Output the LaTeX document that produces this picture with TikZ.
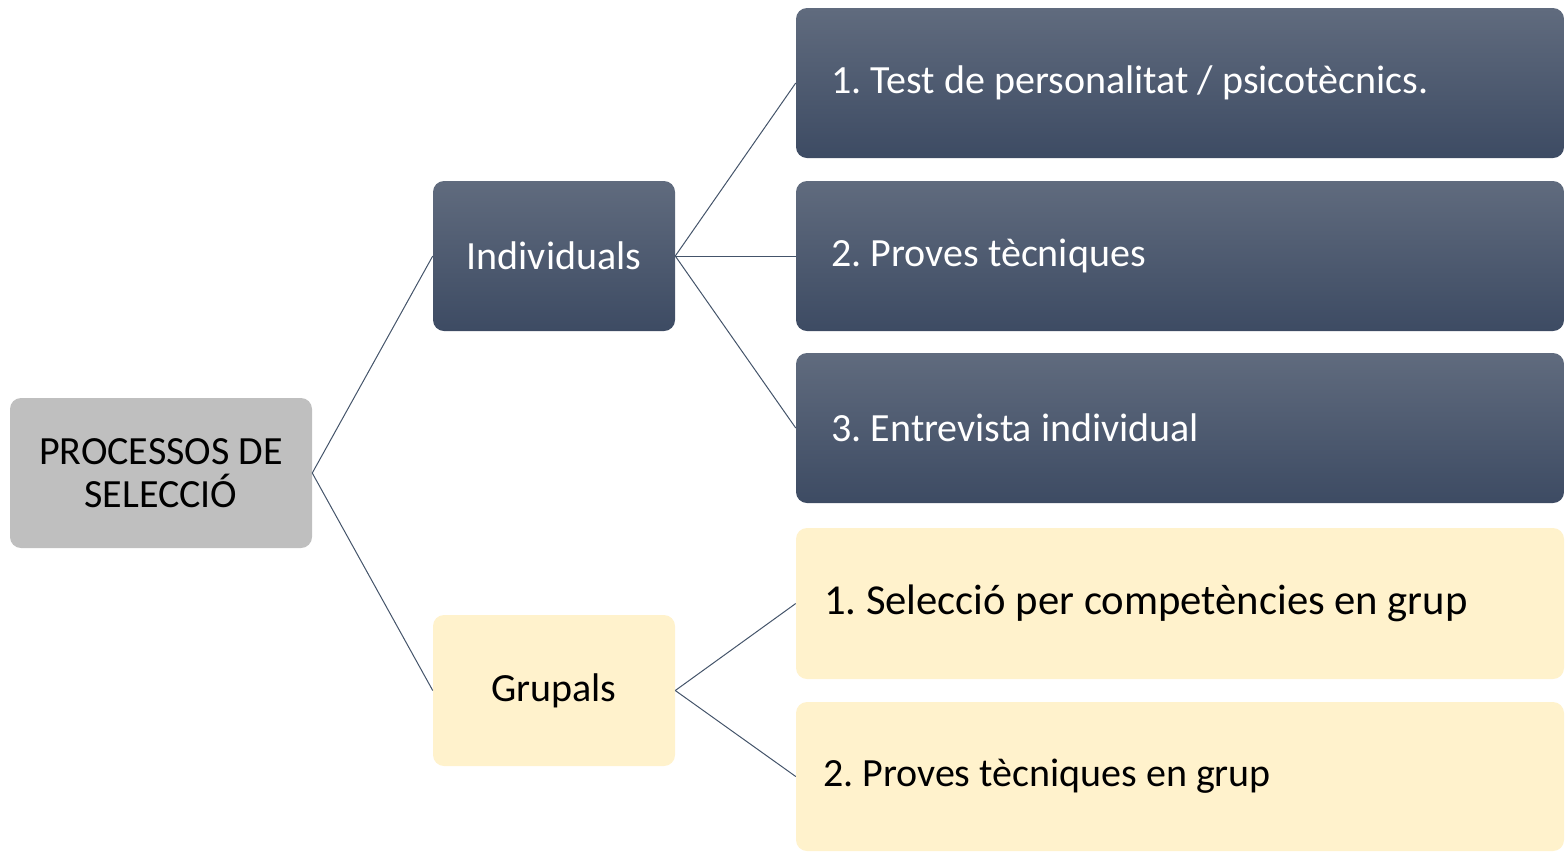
\documentclass[tikz,border=0pt]{standalone}
\usepackage{fontspec}
\setmainfont{Carlito}
\frenchspacing
\definecolor{slateTop}{RGB}{96,107,126}
\definecolor{slateBot}{RGB}{61,75,99}
\definecolor{lineCol}{RGB}{68,84,106}
\definecolor{rootGray}{RGB}{191,191,191}
\definecolor{paleYellow}{RGB}{255,242,204}
\newcommand{\wtext}[2]{\makebox[576pt][l]{\hspace*{#1}#2}}
\begin{document}
\begin{tikzpicture}[x=0.75pt,y=-0.75pt,
  basebox/.style={rectangle,rounded corners=11*0.75pt,inner sep=0pt,
    font=\fontsize{30}{32}\selectfont,align=center},
  darkbox/.style={basebox,top color=slateTop,bottom color=slateBot,text=white},
  yelbox/.style={basebox,fill=paleYellow,text=black},
  graybox/.style={basebox,fill=rootGray,text=black},
  wide/.style={minimum width=768*0.75pt},
  conn/.style={draw=lineCol,line width=0.75pt}]
\useasboundingbox (0,0) rectangle (1565,851);
\node[graybox,minimum width=302*0.75pt,minimum height=150*0.75pt] (root) at (161,473) {PROCESSOS DE\\SELECCIÓ};
\node[darkbox,minimum width=242*0.75pt,minimum height=150*0.75pt] (ind) at (554,256) {Individuals};
\node[yelbox,minimum width=242*0.75pt,minimum height=151*0.75pt] (grp) at (554,690.5) {Grupals};
\node[darkbox,wide,minimum height=150*0.75pt] (r1) at (1180,83) {\wtext{26.6pt}{1. Test de personalitat / psicotècnics.}};
\node[darkbox,wide,minimum height=150*0.75pt] (r2) at (1180,256) {\wtext{26.6pt}{2. Proves tècniques}};
\node[darkbox,wide,minimum height=150*0.75pt] (r3) at (1180,428) {\wtext{26.6pt}{3. Entrevista individual}};
\node[yelbox,wide,minimum height=151*0.75pt,font=\fontsize{32}{34}\selectfont] (y1) at (1180,603.5) {\wtext{21pt}{1. Selecció per competències en grup}};
\node[yelbox,wide,minimum height=149*0.75pt] (y2) at (1180,776.5) {\wtext{20.25pt}{2. Proves tècniques en grup}};
\draw[conn] (root.east) -- (ind.west);
\draw[conn] (root.east) -- (grp.west);
\draw[conn] (ind.east) -- (r1.west);
\draw[conn] (ind.east) -- (r2.west);
\draw[conn] (ind.east) -- (r3.west);
\draw[conn] (grp.east) -- (y1.west);
\draw[conn] (grp.east) -- (y2.west);
\end{tikzpicture}
\end{document}
